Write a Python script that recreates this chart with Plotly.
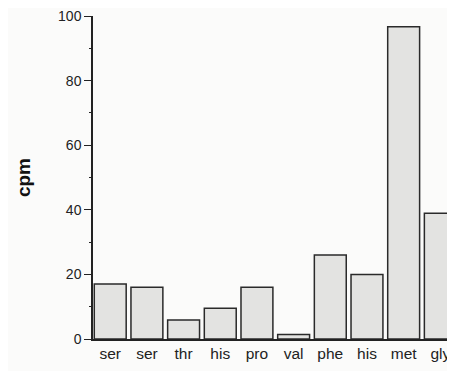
import plotly.graph_objects as go

categories = ["ser", "ser", "thr", "his", "pro", "val", "phe", "his", "met", "gly"]
cpm_values = [17, 16, 5.9, 9.5, 16, 1.4, 26, 20, 96.7, 38.9]
y_tick_values = [0, 20, 40, 60, 80, 100]
y_tick_labels = ["0", "20", "40", "60", "80", "100"]

x_positions = list(range(len(categories)))

fig = go.Figure(
    go.Bar(
        x=x_positions,
        y=cpm_values,
        marker=dict(color="#e3e3e1", line=dict(color="#2a2a2a", width=1.5)),
        width=0.87,
    )
)

# the page body has an 8px default margin, so the figure is offset by 8px
fig.update_layout(
    width=447,
    height=363,
    margin=dict(l=85, r=0, t=8, b=32),
    paper_bgcolor="#fbfbfa",
    plot_bgcolor="#fbfbfa",
    showlegend=False,
    font=dict(family="Liberation Sans, Arial, sans-serif", color="#222"),
)

fig.update_xaxes(
    range=[-0.47, 9.4],
    tickmode="array",
    tickvals=x_positions,
    ticktext=categories,
    tickfont=dict(size=15.5, color="#222"),
    showgrid=False,
    zeroline=False,
    showline=True,
    linecolor="#222",
    linewidth=1.5,
    ticks="",
    automargin=False,
    ticklabeloverflow="allow",
)

fig.update_yaxes(
    range=[0, 100],
    tickmode="array",
    tickvals=y_tick_values,
    ticktext=y_tick_labels,
    tickfont=dict(size=14, color="#222"),
    ticks="outside",
    ticklen=7,
    tickwidth=1.2,
    tickcolor="#222",
    minor=dict(dtick=10, ticks="outside", ticklen=2, tickcolor="#222"),
    showgrid=False,
    zeroline=False,
    showline=True,
    linecolor="#222",
    linewidth=1.5,
    automargin=False,
    ticklabeloverflow="allow",
    title=dict(text="<b>cpm</b>", font=dict(size=19, color="#111"), standoff=22),
)

fig.write_html("out.html")
